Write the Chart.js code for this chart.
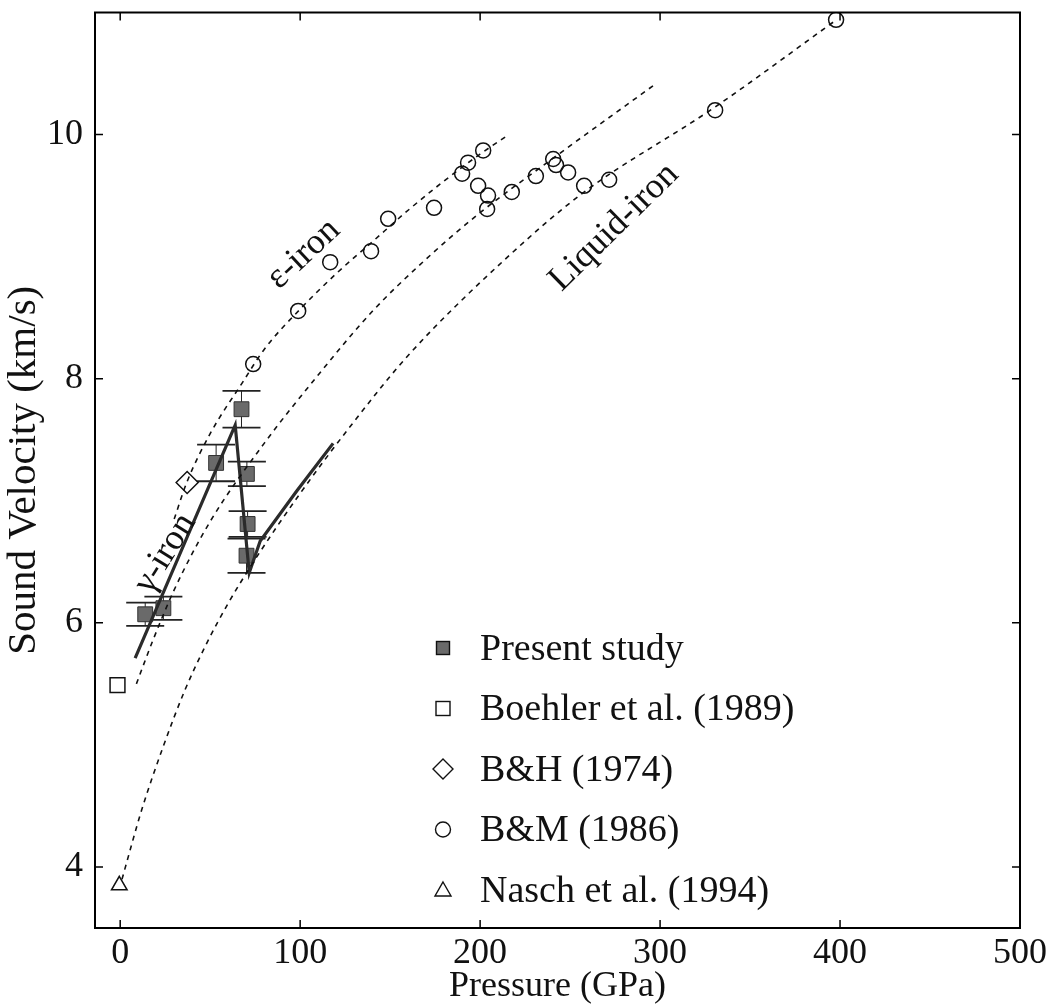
<!DOCTYPE html>
<html>
<head>
<meta charset="utf-8">
<script src="https://cdn.jsdelivr.net/npm/chart.js@4.4.1/dist/chart.umd.min.js"></script>
<style>
  html, body { margin: 0; padding: 0; background: #fff; }
  #wrap { width: 1054px; height: 1008px; position: relative; }
</style>
</head>
<body>
<div id="wrap"><canvas id="c" width="1054" height="1008"></canvas></div>
<script>
// ---- Sound velocity of iron vs. pressure ----

// Present study (pressure GPa, velocity km/s, error km/s)
const presentP   = [13.9, 24.0, 53.3, 67.4, 70.4, 70.8, 70.2];
const presentV   = [6.07, 6.12, 7.31, 7.75, 7.22, 6.81, 6.55];
const presentErr = [0.095, 0.095, 0.15, 0.15, 0.10, 0.105, 0.14];

// Boehler et al. (1989)
const boehlerP = [-1.5];
const boehlerV = [5.49];

// B&H (1974)
const bhP = [37.2];
const bhV = [7.15];

// B&M (1986)
const bmP = [73.9, 98.9, 116.7, 139.4, 148.9, 174.4, 190.0, 193.3, 201.7, 198.9, 204.4,
             203.9, 217.6, 231.0, 240.6, 242.2, 248.9, 257.8, 271.7, 330.6, 397.8];
const bmV = [8.12, 8.555, 8.955, 9.045, 9.31, 9.40, 9.68, 9.77, 9.87, 9.58, 9.50,
             9.39, 9.53, 9.66, 9.80, 9.75, 9.69, 9.58, 9.63, 10.20, 10.94];

// Nasch et al. (1994)
const naschP = [-0.5];
const naschV = [3.85];

// Dotted trend curves
const epsCurveP = [30, 37, 50, 68, 80, 100, 120, 140, 160, 180, 200, 216];
const epsCurveV = [6.85, 7.15, 7.55, 7.97, 8.24, 8.57, 8.86, 9.12, 9.38, 9.62, 9.84, 10.0];
const midCurveP = [9, 18, 30, 50, 80, 110, 140, 170, 200, 240, 298];
const midCurveV = [5.5, 5.85, 6.27, 6.83, 7.47, 8.03, 8.55, 8.98, 9.36, 9.8, 10.42];
const liqCurveP = [1, 12, 24, 36, 48, 60, 75, 100, 130, 160, 214, 257, 330, 398];
const liqCurveV = [3.9, 4.47, 4.99, 5.45, 5.83, 6.16, 6.52, 7.06, 7.65, 8.19, 8.98, 9.52, 10.22, 10.94];

// Solid fit through the present data (gamma-iron branch, drop, liquid branch)
const fitP = [8.3, 63.9, 71.7, 77.8, 98.1, 118.3];
const fitV = [5.71, 7.62, 6.41, 6.67, 7.08, 7.47];

// Axis ticks
const xTicks = [0, 100, 200, 300, 400, 500];
const yTicks = [4, 6, 8, 10];

// Legend entries
const legendLabels = ['Present study', 'Boehler et al. (1989)', 'B&H (1974)', 'B&M (1986)', 'Nasch et al. (1994)'];

// Curve labels: text, anchor pressure, anchor velocity, angle (deg)
const curveLabels = [
  { text: 'ε-iron',      p: 102.0, v: 9.02, angle: -43 },
  { text: 'Liquid-iron', p: 274.4, v: 9.24, angle: -44.5 },
  { text: 'γ-iron',      p: 25.0,  v: 6.57, angle: -58 }
];

const pts = (xs, ys) => xs.map((x, i) => ({ x, y: ys[i] }));
const SERIF = "'Liberation Serif', 'DejaVu Serif', serif";
const GRAY = '#6a6a6a';

// Error bars behind the present-study squares
const errorBars = {
  id: 'errorBars',
  beforeDatasetsDraw(chart) {
    const { ctx, scales: { x, y } } = chart;
    ctx.save();
    ctx.strokeStyle = '#222';
    presentP.forEach((p, i) => {
      const px = x.getPixelForValue(p);
      const top = y.getPixelForValue(presentV[i] + presentErr[i]);
      const bot = y.getPixelForValue(presentV[i] - presentErr[i]);
      ctx.lineWidth = 1;
      ctx.beginPath(); ctx.moveTo(px, top); ctx.lineTo(px, bot); ctx.stroke();
      ctx.lineWidth = 1.8;
      ctx.beginPath();
      ctx.moveTo(px - 19, top); ctx.lineTo(px + 19, top);
      ctx.moveTo(px - 19, bot); ctx.lineTo(px + 19, bot);
      ctx.stroke();
    });
    ctx.restore();
  }
};

// Frame with inward ticks, curve labels and legend
const decorations = {
  id: 'decorations',
  afterDraw(chart) {
    const { ctx, chartArea: a, scales: { x, y } } = chart;
    ctx.save();
    // frame
    ctx.strokeStyle = '#000';
    ctx.lineWidth = 2;
    ctx.strokeRect(a.left, a.top, a.right - a.left, a.bottom - a.top);
    // inward ticks
    ctx.lineWidth = 1.5;
    const tl = 8;
    ctx.beginPath();
    xTicks.forEach(t => {
      const px = x.getPixelForValue(t);
      ctx.moveTo(px, a.bottom); ctx.lineTo(px, a.bottom - tl);
      ctx.moveTo(px, a.top); ctx.lineTo(px, a.top + tl);
    });
    yTicks.forEach(t => {
      const py = y.getPixelForValue(t);
      ctx.moveTo(a.left, py); ctx.lineTo(a.left + tl, py);
      ctx.moveTo(a.right, py); ctx.lineTo(a.right - tl, py);
    });
    ctx.stroke();

    // rotated curve labels
    ctx.fillStyle = '#111';
    ctx.font = `36px ${SERIF}`;
    ctx.textAlign = 'center';
    ctx.textBaseline = 'middle';
    curveLabels.forEach(l => {
      ctx.save();
      ctx.translate(x.getPixelForValue(l.p), y.getPixelForValue(l.v));
      ctx.rotate(l.angle * Math.PI / 180);
      ctx.fillText(l.text, 0, 0);
      ctx.restore();
    });

    // legend
    const mx = 443, tx = 480, y0 = 648, dy = 60.5;
    ctx.textAlign = 'left';
    ctx.font = `38px ${SERIF}`;
    legendLabels.forEach((lab, i) => {
      const cy = y0 + i * dy;
      ctx.lineWidth = 1.4;
      ctx.strokeStyle = '#111';
      ctx.beginPath();
      if (i === 0) {
        ctx.fillStyle = GRAY;
        ctx.fillRect(mx - 6.5, cy - 6.5, 13, 13);
        ctx.strokeRect(mx - 6.5, cy - 6.5, 13, 13);
      } else if (i === 1) {
        ctx.strokeRect(mx - 7, cy - 7, 14, 14);
      } else if (i === 2) {
        ctx.moveTo(mx, cy - 10); ctx.lineTo(mx + 10, cy); ctx.lineTo(mx, cy + 10); ctx.lineTo(mx - 10, cy); ctx.closePath();
        ctx.stroke();
      } else if (i === 3) {
        ctx.arc(mx, cy, 7.5, 0, Math.PI * 2); ctx.stroke();
      } else {
        ctx.moveTo(mx, cy - 8); ctx.lineTo(mx + 8, cy + 6); ctx.lineTo(mx - 8, cy + 6); ctx.closePath();
        ctx.stroke();
      }
      ctx.fillStyle = '#111';
      ctx.fillText(lab, tx, cy + 2);
    });
    ctx.restore();
  }
};

const dashed = (data) => ({
  data, showLine: true, borderColor: '#111', borderWidth: 1.6, borderDash: [5, 5],
  pointRadius: 0, cubicInterpolationMode: 'monotone', fill: false
});

new Chart(document.getElementById('c'), {
  type: 'scatter',
  data: {
    datasets: [
      dashed(pts(epsCurveP, epsCurveV)),
      dashed(pts(midCurveP, midCurveV)),
      dashed(pts(liqCurveP, liqCurveV)),
      { data: pts(fitP, fitV), showLine: true, borderColor: '#2b2b2b', borderWidth: 3.2,
        pointRadius: 0, tension: 0, borderJoinStyle: 'miter' },
      { label: legendLabels[0], data: pts(presentP, presentV), pointStyle: 'rect', pointRadius: 10.5,
        backgroundColor: GRAY, borderColor: '#333', borderWidth: 1 },
      { label: legendLabels[1], data: pts(boehlerP, boehlerV), pointStyle: 'rect', pointRadius: 10.5,
        backgroundColor: '#fff', borderColor: '#111', borderWidth: 1.5 },
      { label: legendLabels[2], data: pts(bhP, bhV), pointStyle: 'rectRot', pointRadius: 11,
        backgroundColor: '#fff', borderColor: '#111', borderWidth: 1.5 },
      { label: legendLabels[3], data: pts(bmP, bmV), pointStyle: 'circle', pointRadius: 7.5,
        backgroundColor: 'rgba(0,0,0,0)', borderColor: '#111', borderWidth: 1.5 },
      { label: legendLabels[4], data: pts(naschP, naschV), pointStyle: 'triangle', pointRadius: 9,
        backgroundColor: '#fff', borderColor: '#111', borderWidth: 1.5 }
    ]
  },
  options: {
    responsive: false,
    animation: false,
    events: [],
    layout: { padding: { left: 0, right: 34, top: 7, bottom: 0 } },
    plugins: { legend: { display: false }, tooltip: { enabled: false } },
    scales: {
      x: {
        type: 'linear', min: -14, max: 500,
        afterBuildTicks: s => { s.ticks = xTicks.map(v => ({ value: v })); },
        afterFit: s => { s.height = 80; s.paddingLeft = 0; s.paddingRight = 0; },
        grid: { display: false, drawTicks: false },
        border: { display: false },
        ticks: { color: '#111', font: { family: SERIF, size: 36 }, padding: 4, maxRotation: 0 },
        title: { display: true, text: 'Pressure (GPa)', color: '#111',
                 font: { family: SERIF, size: 36 }, padding: { top: 0, bottom: 0 } }
      },
      y: {
        type: 'linear', min: 3.5, max: 11,
        afterBuildTicks: s => { s.ticks = yTicks.map(v => ({ value: v })); },
        afterFit: s => { s.width = 95; s.paddingTop = 0; s.paddingBottom = 0; },
        grid: { display: false, drawTicks: false },
        border: { display: false },
        ticks: { color: '#111', font: { family: SERIF, size: 36 }, padding: 12 },
        title: { display: true, text: 'Sound Velocity (km/s)', color: '#111',
                 font: { family: SERIF, size: 41 }, padding: { top: 0, bottom: 0 } }
      }
    }
  },
  plugins: [errorBars, decorations]
});
</script>
</body>
</html>
